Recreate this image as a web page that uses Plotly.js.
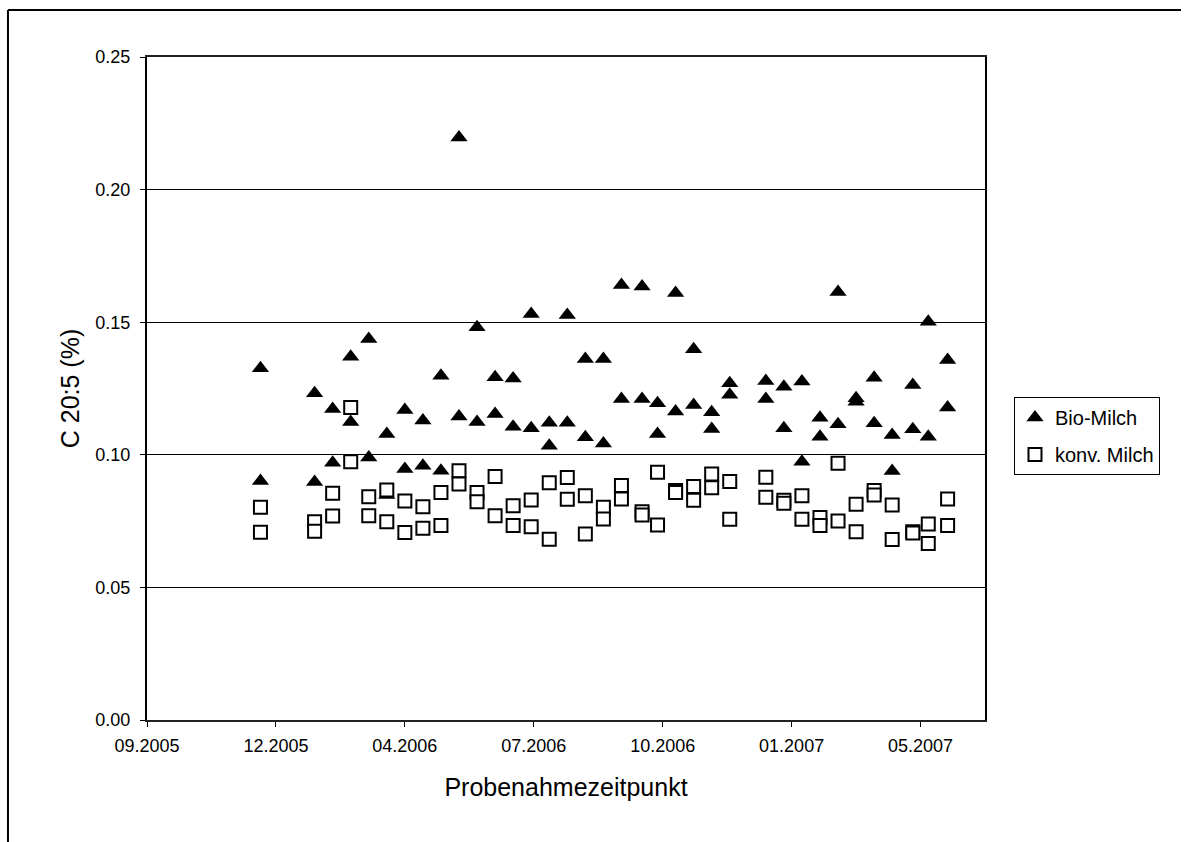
<!DOCTYPE html>
<html>
<head>
<meta charset="utf-8">
<script src="https://cdn.plot.ly/plotly-3.0.1.min.js"></script>
<style>
  html, body { margin: 0; padding: 0; background: #fff; }
  #chart { width: 1190px; height: 842px; }
</style>
</head>
<body>
<div id="chart"></div>
<script>
// Sampling dates (two samples per date and milk type)
const sampleDates = [
  '2005-12-12','2006-01-23','2006-02-06','2006-02-20','2006-03-06','2006-03-20',
  '2006-04-03','2006-04-17','2006-05-01','2006-05-15','2006-05-29','2006-06-12',
  '2006-06-26','2006-07-10','2006-07-24','2006-08-07','2006-08-21','2006-09-04',
  '2006-09-18','2006-10-04','2006-10-16','2006-10-30','2006-11-13','2006-11-27',
  '2006-12-11','2007-01-08','2007-01-22','2007-02-05','2007-02-19','2007-03-05',
  '2007-03-19','2007-04-02','2007-04-16','2007-05-02','2007-05-14','2007-05-29'
];

// Bio-Milch, C 20:5 (%)
const bioA = [
  0.1326, 0.1232, 0.1173, 0.1370, 0.1437, 0.1078,
  0.1169, 0.1129, 0.1298, 0.2196, 0.1481, 0.1292,
  0.1288, 0.1531, 0.1121, 0.1527, 0.1361, 0.1361,
  0.1640, 0.1635, 0.1194, 0.1610, 0.1398, 0.1160,
  0.1270, 0.1278, 0.1257, 0.1276, 0.1140, 0.1614,
  0.1213, 0.1291, 0.1075, 0.1263, 0.1502, 0.1357
];
const bioB = [
  0.0901, 0.0897, 0.0970, 0.1124, 0.0990, 0.0848,
  0.0946, 0.0959, 0.0940, 0.1144, 0.1124, 0.1154,
  0.1106, 0.1100, 0.1034, 0.1121, 0.1066, 0.1043,
  0.1210, 0.1210, 0.1078, 0.1163, 0.1188, 0.1097,
  0.1226, 0.1210, 0.1100, 0.0974, 0.1068, 0.1115,
  0.1200, 0.1119, 0.0939, 0.1096, 0.1068, 0.1178
];

// konv. Milch, C 20:5 (%)
const konvA = [
  0.0802, 0.0748, 0.0855, 0.1178, 0.0842, 0.0867,
  0.0826, 0.0804, 0.0858, 0.0940, 0.0858, 0.0918,
  0.0808, 0.0830, 0.0895, 0.0914, 0.0846, 0.0802,
  0.0884, 0.0785, 0.0934, 0.0865, 0.0880, 0.0928,
  0.0899, 0.0915, 0.0829, 0.0846, 0.0764, 0.0968,
  0.0814, 0.0865, 0.0811, 0.0710, 0.0739, 0.0833
];
const konvB = [
  0.0708, 0.0712, 0.0769, 0.0974, 0.0770, 0.0748,
  0.0707, 0.0723, 0.0733, 0.0890, 0.0823, 0.0770,
  0.0733, 0.0729, 0.0682, 0.0832, 0.0701, 0.0758,
  0.0833, 0.0773, 0.0735, 0.0858, 0.0829, 0.0876,
  0.0757, 0.0840, 0.0817, 0.0757, 0.0733, 0.0750,
  0.0710, 0.0848, 0.0681, 0.0705, 0.0666, 0.0733
];

// X axis: ticks every 100 days, labelled as month.year
const xTickDates  = ['2005-09-15','2005-12-24','2006-04-03','2006-07-12','2006-10-20','2007-01-28','2007-05-08'];
const xTickLabels = ['09.2005','12.2005','04.2006','07.2006','10.2006','01.2007','05.2007'];
const xRange = ['2005-09-15','2007-06-27'];

const seriesNames = ['Bio-Milch', 'konv. Milch'];
const yAxisTitle = 'C 20:5 (%)';
const xAxisTitle = 'Probenahmezeitpunkt';

const FONT = '"Liberation Sans", Arial, Helvetica, sans-serif';

const traces = [
  {
    type: 'scatter', mode: 'markers', name: seriesNames[0], legendgroup: 'g1',
    x: sampleDates.concat(sampleDates),
    y: bioA.concat(bioB),
    marker: { symbol: 'triangle-up', size: 15, color: '#000000', line: { width: 0 } },
    cliponaxis: false
  },
  {
    type: 'scatter', mode: 'markers', name: seriesNames[1], legendgroup: 'g2',
    x: sampleDates.concat(sampleDates),
    y: konvA.concat(konvB),
    marker: { symbol: 'square', size: 13, color: '#ffffff', line: { color: '#000000', width: 2 } },
    cliponaxis: false
  }
];

const layout = {
  width: 1190, height: 842,
  margin: { l: 147, r: 205, t: 57, b: 122, pad: 0 },
  paper_bgcolor: '#ffffff', plot_bgcolor: '#ffffff',
  font: { family: FONT, color: '#000000', size: 18 },
  showlegend: true,
  hovermode: false,
  xaxis: {
    type: 'date',
    range: xRange,
    tickmode: 'array', tickvals: xTickDates, ticktext: xTickLabels,
    ticks: 'outside', ticklen: 5, tickwidth: 1, tickcolor: '#000000',
    ticklabelstandoff: 3,
    showline: true, linecolor: '#222222', linewidth: 2, mirror: true,
    showgrid: false, zeroline: false,
    tickfont: { family: FONT, size: 18, color: '#000000' },
    title: { text: xAxisTitle, font: { family: FONT, size: 25, color: '#000000' }, standoff: 24 }
  },
  yaxis: {
    range: [0, 0.25],
    tickmode: 'linear', tick0: 0, dtick: 0.05, tickformat: '.2f',
    ticks: 'outside', ticklen: 5, tickwidth: 1, tickcolor: '#000000',
    ticklabelstandoff: 6,
    showline: true, linecolor: '#000000', linewidth: 2, mirror: true,
    showgrid: true, gridcolor: '#000000', gridwidth: 1,
    zeroline: false,
    tickfont: { family: FONT, size: 18, color: '#000000' },
    title: { text: yAxisTitle, font: { family: FONT, size: 25, color: '#000000' }, standoff: 9 }
  },
  legend: {
    x: 1.0346, xanchor: 'left', y: 0.487, yanchor: 'top',
    bgcolor: '#ffffff', bordercolor: '#000000', borderwidth: 1,
    font: { family: FONT, size: 20, color: '#000000' },
    traceorder: 'grouped', tracegroupgap: 8,
    itemwidth: 30
  },
  shapes: [
    { type: 'line', xref: 'paper', yref: 'paper', x0: -0.1659, x1: 1.2339, y0: 1.0709, y1: 1.0709,
      line: { color: '#000000', width: 2 } },
    { type: 'line', xref: 'paper', yref: 'paper', x0: -0.1659, x1: -0.1659, y0: 1.0709, y1: -0.2,
      line: { color: '#000000', width: 2 } }
  ]
};

Plotly.newPlot('chart', traces, layout, { staticPlot: true, displayModeBar: false });
</script>
</body>
</html>
